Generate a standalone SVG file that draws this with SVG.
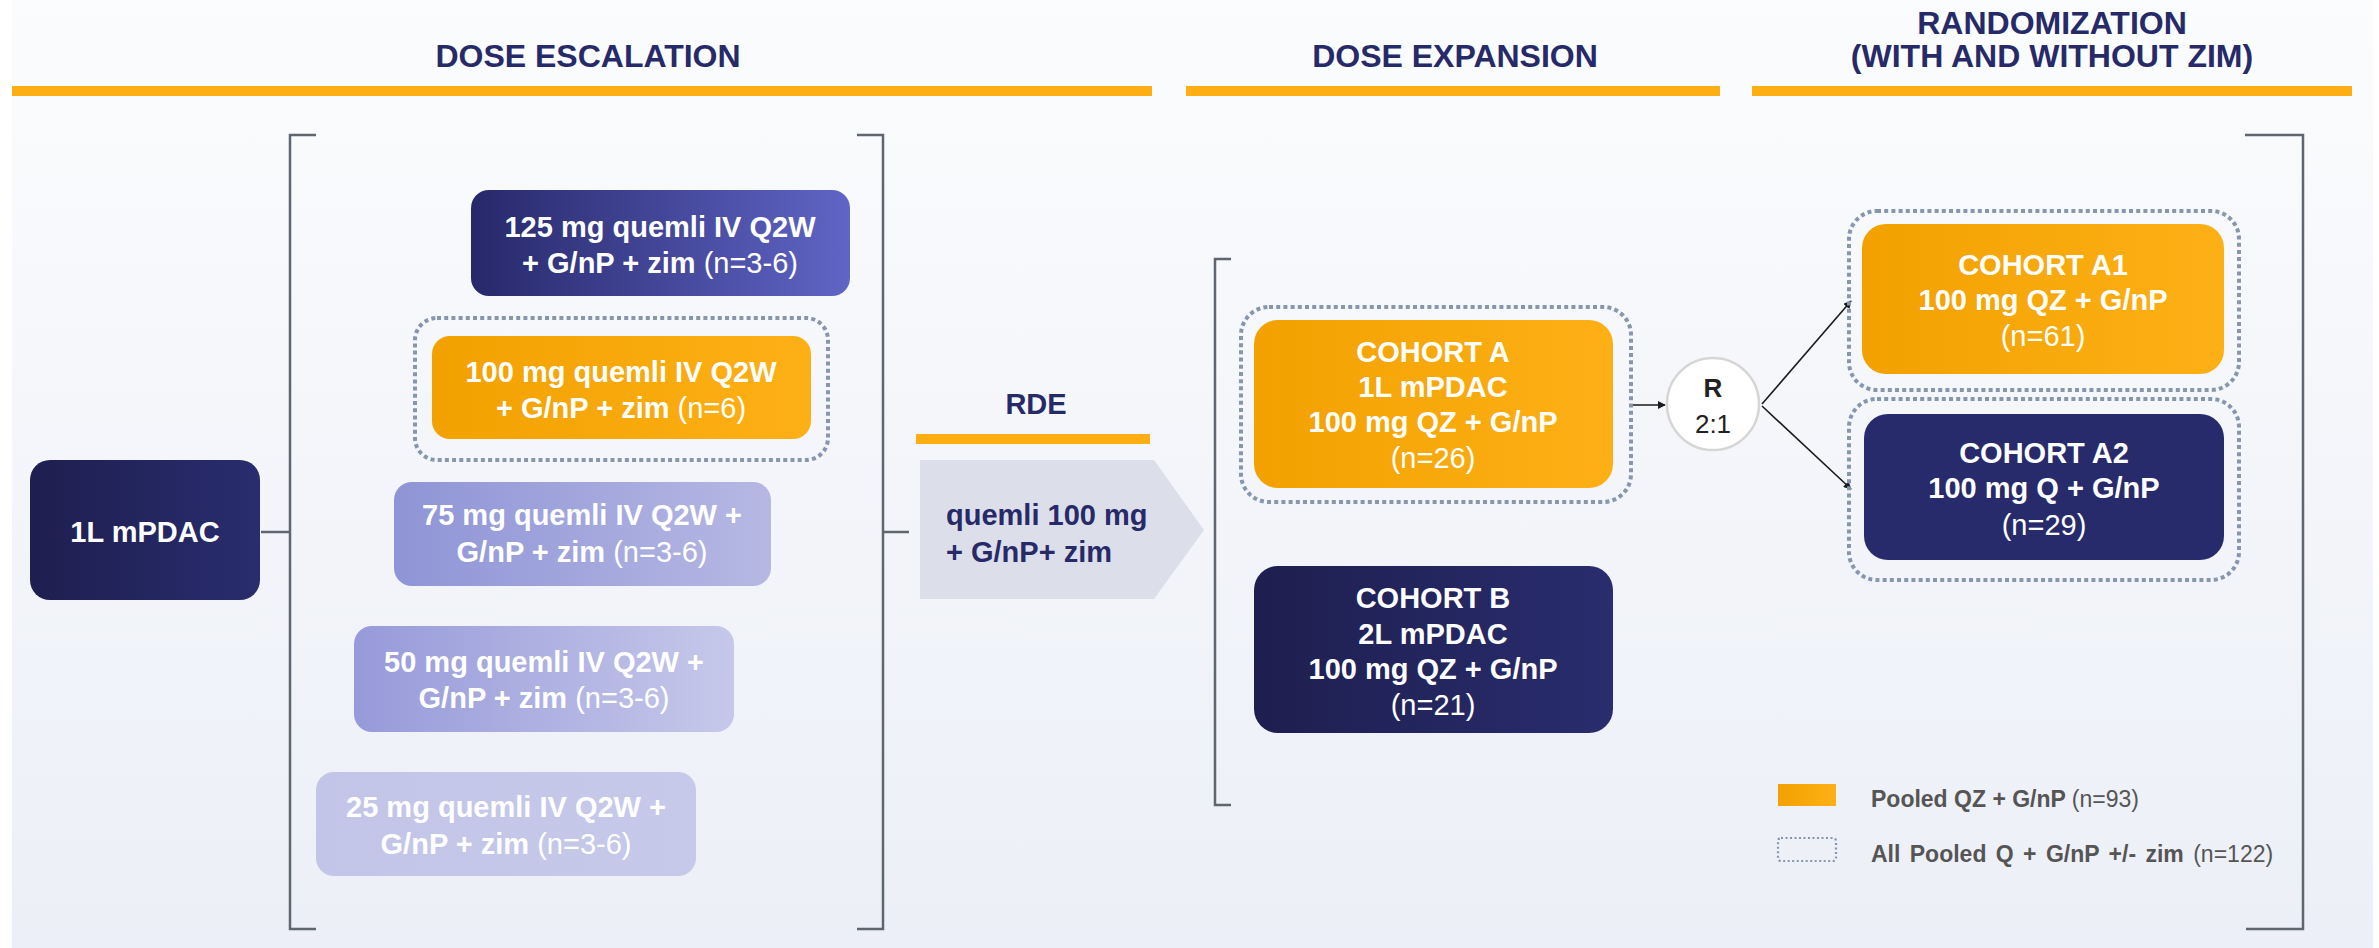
<svg xmlns="http://www.w3.org/2000/svg" width="2379" height="948" viewBox="0 0 2379 948">
  <defs>
    <linearGradient id="bg" x1="0" y1="0" x2="0" y2="1">
      <stop offset="0" stop-color="#fbfcfd"/>
      <stop offset="1" stop-color="#eceff7"/>
    </linearGradient>
    <linearGradient id="gOrange" x1="0" y1="0" x2="1" y2="0">
      <stop offset="0" stop-color="#f2a100"/>
      <stop offset="1" stop-color="#fdb016"/>
    </linearGradient>
    <linearGradient id="gNavy" x1="0" y1="0" x2="1" y2="0">
      <stop offset="0" stop-color="#1e1e4f"/>
      <stop offset="1" stop-color="#292d6e"/>
    </linearGradient>
    <linearGradient id="g125" x1="0" y1="0" x2="1" y2="0">
      <stop offset="0" stop-color="#27286a"/>
      <stop offset="1" stop-color="#6065c6"/>
    </linearGradient>
    <linearGradient id="g75" x1="0" y1="0" x2="1" y2="0">
      <stop offset="0" stop-color="#8f94d6"/>
      <stop offset="1" stop-color="#b6b8e3"/>
    </linearGradient>
    <linearGradient id="g50" x1="0" y1="0" x2="1" y2="0">
      <stop offset="0" stop-color="#979ad9"/>
      <stop offset="1" stop-color="#c6c8ea"/>
    </linearGradient>
    <linearGradient id="g25" x1="0" y1="0" x2="1" y2="0">
      <stop offset="0" stop-color="#c3c5e8"/>
      <stop offset="1" stop-color="#c7c9ea"/>
    </linearGradient>
    <marker id="arr" viewBox="0 0 10 10" refX="9" refY="5" markerWidth="8" markerHeight="8" markerUnits="userSpaceOnUse" orient="auto">
      <path d="M0,0 L10,5 L0,10 z" fill="#1a1a1a"/>
    </marker>
    <style>
      text { font-family: "Liberation Sans", Arial, sans-serif; }
      .hdr { font-size: 32px; font-weight: bold; fill: #272a68; text-anchor: middle; }
      .bar { fill: #fdae12; }
      .brk { fill: none; stroke: #5f6670; stroke-width: 2.5; }
      .dot { fill: none; stroke: #8596ae; stroke-width: 4; stroke-dasharray: 4 3.2; }
      .lbl { font-size: 29px; font-weight: bold; fill: #ffffff; text-anchor: middle; }
      .n { font-weight: normal; }
      .rde { font-size: 29px; font-weight: bold; fill: #272a68; }
      .leg { font-size: 23px; font-weight: bold; fill: #555555; }
      .conn { fill: none; stroke: #1a1a1a; stroke-width: 1.6; }
    </style>
  </defs>

  <!-- page background -->
  <rect x="0" y="0" width="2379" height="948" fill="#ffffff"/>
  <rect x="12" y="0" width="2361" height="948" fill="url(#bg)"/>

  <!-- section headers -->
  <g id="headers">
    <text class="hdr" x="588" y="67">DOSE ESCALATION</text>
    <rect class="bar" x="12" y="86" width="1140" height="10"/>
    <text class="hdr" x="1455" y="67">DOSE EXPANSION</text>
    <rect class="bar" x="1186" y="86" width="534" height="10"/>
    <text class="hdr" x="2052" y="34">RANDOMIZATION</text>
    <text class="hdr" x="2052" y="67">(WITH AND WITHOUT ZIM)</text>
    <rect class="bar" x="1752" y="86" width="600" height="10"/>
  </g>

  <!-- brackets -->
  <g id="brackets">
    <path class="brk" d="M316,135 H290 V929 H316"/>
    <path class="brk" d="M857,135 H883 V929 H857"/>
    <path class="brk" d="M1231,259 H1215 V805 H1231"/>
    <path class="brk" d="M2245,135 H2303 V929 H2246"/>
  </g>

  <!-- connectors -->
  <g id="connectors">
    <line class="brk" x1="261" y1="532" x2="290" y2="532"/>
    <line class="brk" x1="883" y1="532" x2="909" y2="532"/>
    <line class="conn" x1="1631" y1="405" x2="1665" y2="405" marker-end="url(#arr)"/>
    <line class="conn" x1="1762" y1="404" x2="1851" y2="301" marker-end="url(#arr)"/>
    <line class="conn" x1="1762" y1="406" x2="1851" y2="489" marker-end="url(#arr)"/>
  </g>

  <g id="n-1l">
    <rect x="30" y="460" width="230" height="140" rx="20" fill="url(#gNavy)"/>
    <text class="lbl" x="145" y="542">1L mPDAC</text>
  </g>

  <g id="n-125">
    <rect x="471" y="190" width="379" height="106" rx="18" fill="url(#g125)"/>
    <text class="lbl" x="660" y="237">125 mg quemli IV Q2W</text>
    <text class="lbl" x="660" y="273">+ G/nP + zim <tspan class="n">(n=3-6)</tspan></text>
  </g>

  <g id="n-100">
    <rect class="dot" x="415" y="318" width="413" height="142" rx="22"/>
    <rect x="432" y="336" width="379" height="103" rx="18" fill="url(#gOrange)"/>
    <text class="lbl" x="621" y="382">100 mg quemli IV Q2W</text>
    <text class="lbl" x="621" y="418">+ G/nP + zim <tspan class="n">(n=6)</tspan></text>
  </g>

  <g id="n-75">
    <rect x="394" y="482" width="377" height="104" rx="18" fill="url(#g75)"/>
    <text class="lbl" x="582" y="525">75 mg quemli IV Q2W +</text>
    <text class="lbl" x="582" y="562">G/nP + zim <tspan class="n">(n=3-6)</tspan></text>
  </g>

  <g id="n-50">
    <rect x="354" y="626" width="380" height="106" rx="18" fill="url(#g50)"/>
    <text class="lbl" x="544" y="672">50 mg quemli IV Q2W +</text>
    <text class="lbl" x="544" y="708">G/nP + zim <tspan class="n">(n=3-6)</tspan></text>
  </g>

  <g id="n-25">
    <rect x="316" y="772" width="380" height="104" rx="18" fill="url(#g25)"/>
    <text class="lbl" x="506" y="817">25 mg quemli IV Q2W +</text>
    <text class="lbl" x="506" y="854">G/nP + zim <tspan class="n">(n=3-6)</tspan></text>
  </g>

  <g id="n-rde">
    <text class="rde" x="1036" y="414" text-anchor="middle">RDE</text>
    <rect class="bar" x="916" y="434" width="234" height="10"/>
    <path d="M920,460 H1154 L1204,530 L1154,599 H920 z" fill="#dcdee9"/>
    <text class="rde" x="946" y="525">quemli 100 mg</text>
    <text class="rde" x="946" y="562">+ G/nP+ zim</text>
  </g>

  <g id="n-cohort-a">
    <rect class="dot" x="1241" y="307" width="390" height="195" rx="28"/>
    <rect x="1254" y="320" width="359" height="168" rx="24" fill="url(#gOrange)"/>
    <text class="lbl" x="1433" y="362">COHORT A</text>
    <text class="lbl" x="1433" y="397">1L mPDAC</text>
    <text class="lbl" x="1433" y="432">100 mg QZ + G/nP</text>
    <text class="lbl n" x="1433" y="468">(n=26)</text>
  </g>

  <g id="n-cohort-b">
    <rect x="1254" y="566" width="359" height="167" rx="24" fill="url(#gNavy)"/>
    <text class="lbl" x="1433" y="608">COHORT B</text>
    <text class="lbl" x="1433" y="644">2L mPDAC</text>
    <text class="lbl" x="1433" y="679">100 mg QZ + G/nP</text>
    <text class="lbl n" x="1433" y="715">(n=21)</text>
  </g>

  <g id="n-r">
    <circle cx="1713" cy="404" r="46" fill="#ffffff" stroke="#d6d6d6" stroke-width="2.5"/>
    <text x="1713" y="397" font-size="26" font-weight="bold" fill="#222222" text-anchor="middle">R</text>
    <text x="1713" y="433" font-size="26" fill="#222222" text-anchor="middle">2:1</text>
  </g>

  <g id="n-cohort-a1">
    <rect class="dot" x="1849" y="211" width="390" height="179" rx="28"/>
    <rect x="1862" y="224" width="362" height="150" rx="24" fill="url(#gOrange)"/>
    <text class="lbl" x="2043" y="275">COHORT A1</text>
    <text class="lbl" x="2043" y="310">100 mg QZ + G/nP</text>
    <text class="lbl n" x="2043" y="346">(n=61)</text>
  </g>

  <g id="n-cohort-a2">
    <rect class="dot" x="1849" y="399" width="390" height="181" rx="28"/>
    <rect x="1864" y="414" width="360" height="146" rx="24" fill="#282b6b"/>
    <text class="lbl" x="2044" y="463">COHORT A2</text>
    <text class="lbl" x="2044" y="498">100 mg Q + G/nP</text>
    <text class="lbl n" x="2044" y="535">(n=29)</text>
  </g>

  <g id="legend">
    <rect x="1778" y="784" width="58" height="22" fill="url(#gOrange)"/>
    <text class="leg" x="1871" y="807">Pooled QZ + G/nP <tspan class="n">(n=93)</tspan></text>
    <rect x="1778" y="838" width="58" height="23" rx="3" fill="none" stroke="#8596ae" stroke-width="2.2" stroke-dasharray="2 2.5"/>
    <text class="leg" x="1871" y="862" word-spacing="3">All Pooled Q + G/nP +/- zim <tspan class="n">(n=122)</tspan></text>
  </g>
</svg>
